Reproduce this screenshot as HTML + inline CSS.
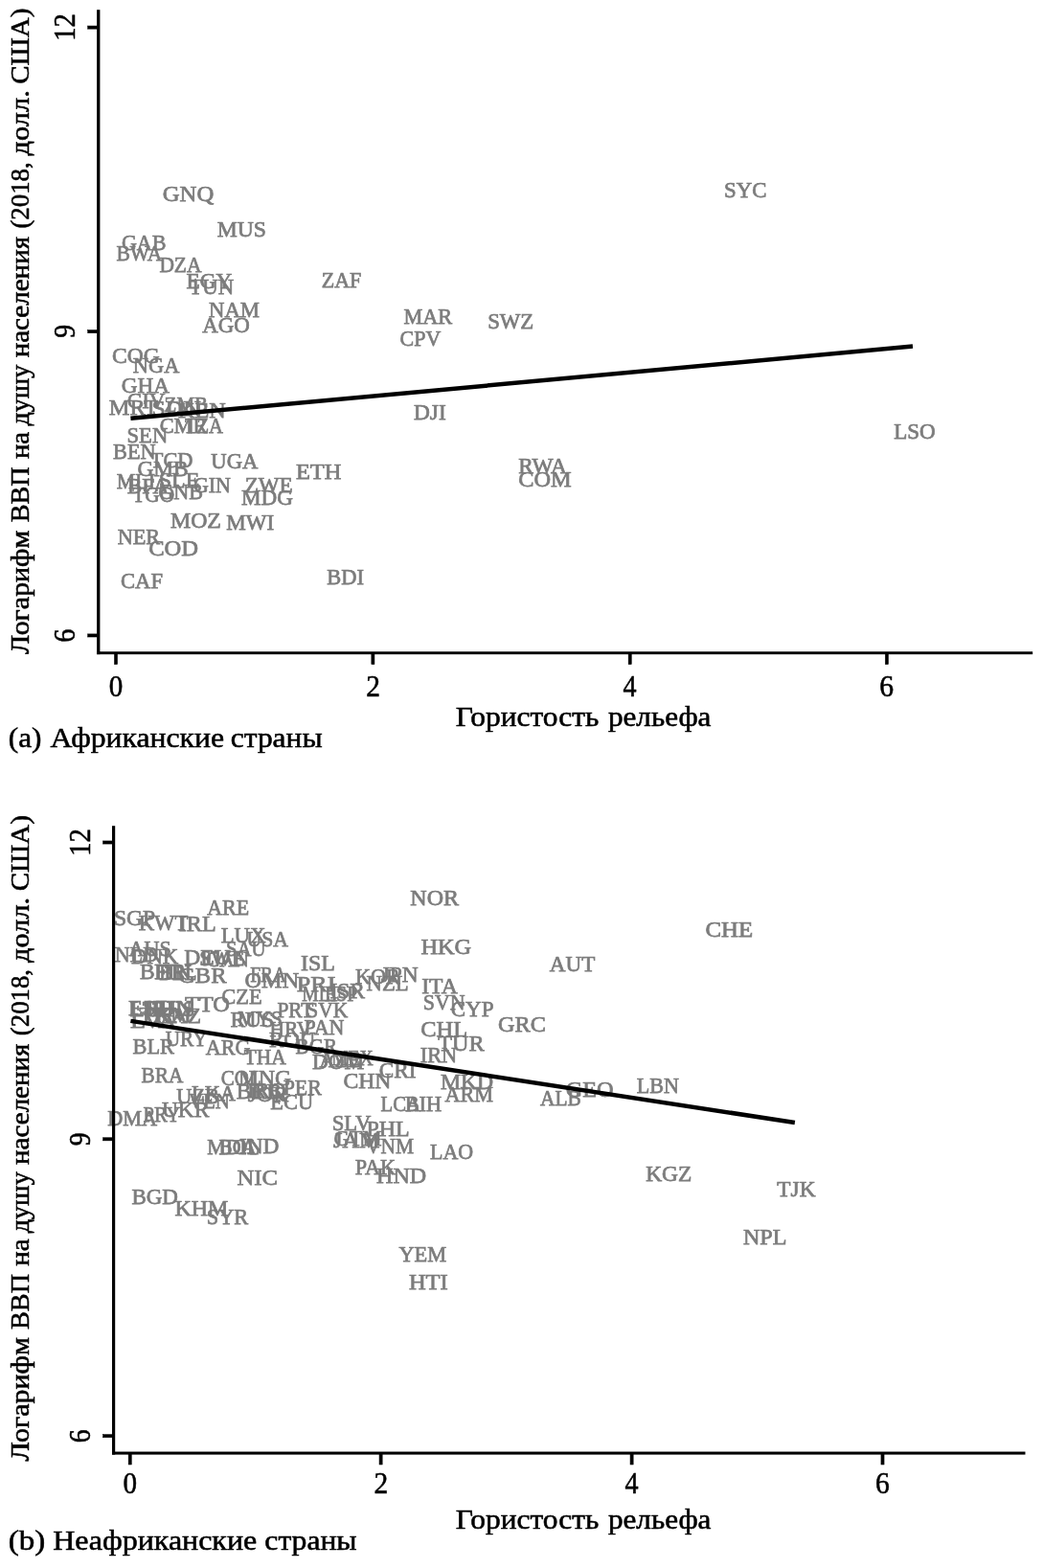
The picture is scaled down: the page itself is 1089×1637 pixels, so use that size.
<!DOCTYPE html>
<html lang="ru"><head><meta charset="utf-8"><title>Гористость рельефа и логарифм ВВП на душу населения</title>
<style>html,body{margin:0;padding:0;background:#fff}svg{display:block}text{font-family:"Liberation Serif",serif}.ax{font-size:29.5px;fill:#000;stroke:#000;stroke-width:0.55px}.yl{font-size:27.5px}.xt{font-size:30.5px}.yt{font-size:30.5px}.lb{font-size:24.0px;fill:#7c7c7c;stroke:#7c7c7c;stroke-width:0.75px}</style></head><body>
<svg width="1089" height="1637" viewBox="0 0 1089 1637">
<rect width="1089" height="1637" fill="#fff"/>
<g id="panel-a">
<g class="lb">
<text x="169.79" y="210.0" textLength="53.45" lengthAdjust="spacingAndGlyphs">GNQ</text>
<text x="226.73" y="247.0" textLength="51.22" lengthAdjust="spacingAndGlyphs">MUS</text>
<text x="126.89" y="260.7" textLength="46.61" lengthAdjust="spacingAndGlyphs">GAB</text>
<text x="121.38" y="272.4" textLength="48.00" lengthAdjust="spacingAndGlyphs">BWA</text>
<text x="166.38" y="283.6" textLength="44.11" lengthAdjust="spacingAndGlyphs">DZA</text>
<text x="194.54" y="301.0" textLength="47.67" lengthAdjust="spacingAndGlyphs">EGY</text>
<text x="197.28" y="307.4" textLength="46.87" lengthAdjust="spacingAndGlyphs">TUN</text>
<text x="335.73" y="300.0" textLength="41.60" lengthAdjust="spacingAndGlyphs">ZAF</text>
<text x="218.05" y="331.2" textLength="52.92" lengthAdjust="spacingAndGlyphs">NAM</text>
<text x="211.15" y="347.3" textLength="49.57" lengthAdjust="spacingAndGlyphs">AGO</text>
<text x="117.03" y="379.4" textLength="49.63" lengthAdjust="spacingAndGlyphs">COG</text>
<text x="138.86" y="388.7" textLength="48.41" lengthAdjust="spacingAndGlyphs">NGA</text>
<text x="126.75" y="410.0" textLength="50.23" lengthAdjust="spacingAndGlyphs">GHA</text>
<text x="132.85" y="425.7" textLength="39.65" lengthAdjust="spacingAndGlyphs">CIV</text>
<text x="113.81" y="432.8" textLength="51.23" lengthAdjust="spacingAndGlyphs">MRT</text>
<text x="158.44" y="433.5" textLength="51.38" lengthAdjust="spacingAndGlyphs">SDN</text>
<text x="171.58" y="430.2" textLength="45.49" lengthAdjust="spacingAndGlyphs">ZMB</text>
<text x="186.11" y="435.7" textLength="49.66" lengthAdjust="spacingAndGlyphs">KEN</text>
<text x="166.78" y="452.0" textLength="49.51" lengthAdjust="spacingAndGlyphs">CMR</text>
<text x="192.91" y="452.4" textLength="40.04" lengthAdjust="spacingAndGlyphs">TZA</text>
<text x="132.55" y="462.4" textLength="42.66" lengthAdjust="spacingAndGlyphs">SEN</text>
<text x="118.06" y="479.4" textLength="44.46" lengthAdjust="spacingAndGlyphs">BEN</text>
<text x="156.78" y="487.8" textLength="44.74" lengthAdjust="spacingAndGlyphs">TCD</text>
<text x="220.32" y="488.6" textLength="49.05" lengthAdjust="spacingAndGlyphs">UGA</text>
<text x="143.44" y="497.4" textLength="53.21" lengthAdjust="spacingAndGlyphs">GMB</text>
<text x="308.90" y="500.0" textLength="47.43" lengthAdjust="spacingAndGlyphs">ETH</text>
<text x="121.87" y="509.6" textLength="40.13" lengthAdjust="spacingAndGlyphs">MLI</text>
<text x="165.87" y="509.0" textLength="42.36" lengthAdjust="spacingAndGlyphs">SLE</text>
<text x="201.89" y="513.9" textLength="39.12" lengthAdjust="spacingAndGlyphs">GIN</text>
<text x="255.68" y="513.6" textLength="50.02" lengthAdjust="spacingAndGlyphs">ZWE</text>
<text x="132.73" y="514.8" textLength="43.63" lengthAdjust="spacingAndGlyphs">BFA</text>
<text x="165.29" y="521.2" textLength="46.72" lengthAdjust="spacingAndGlyphs">GNB</text>
<text x="138.20" y="524.4" textLength="43.99" lengthAdjust="spacingAndGlyphs">TGO</text>
<text x="251.94" y="526.8" textLength="54.01" lengthAdjust="spacingAndGlyphs">MDG</text>
<text x="178.02" y="550.7" textLength="52.91" lengthAdjust="spacingAndGlyphs">MOZ</text>
<text x="236.24" y="552.5" textLength="49.91" lengthAdjust="spacingAndGlyphs">MWI</text>
<text x="122.66" y="568.2" textLength="44.52" lengthAdjust="spacingAndGlyphs">NER</text>
<text x="155.19" y="580.4" textLength="51.89" lengthAdjust="spacingAndGlyphs">COD</text>
<text x="126.07" y="614.2" textLength="43.85" lengthAdjust="spacingAndGlyphs">CAF</text>
<text x="341.26" y="609.8" textLength="38.65" lengthAdjust="spacingAndGlyphs">BDI</text>
<text x="421.46" y="338.2" textLength="50.78" lengthAdjust="spacingAndGlyphs">MAR</text>
<text x="417.60" y="360.7" textLength="42.61" lengthAdjust="spacingAndGlyphs">CPV</text>
<text x="509.13" y="343.2" textLength="48.17" lengthAdjust="spacingAndGlyphs">SWZ</text>
<text x="432.03" y="437.8" textLength="33.69" lengthAdjust="spacingAndGlyphs">DJI</text>
<text x="541.13" y="494.4" textLength="50.66" lengthAdjust="spacingAndGlyphs">RWA</text>
<text x="541.30" y="507.6" textLength="55.41" lengthAdjust="spacingAndGlyphs">COM</text>
<text x="755.93" y="206.4" textLength="44.46" lengthAdjust="spacingAndGlyphs">SYC</text>
<text x="933.14" y="458.3" textLength="43.49" lengthAdjust="spacingAndGlyphs">LSO</text>
</g>
<rect x="101.10" y="10.20" width="3.30" height="672.95" fill="#000"/>
<rect x="101.10" y="680.25" width="977.10" height="2.90" fill="#000"/>
<g class="ax">
<rect x="91.70" y="27.05" width="9.90" height="3.10" fill="#000"/>
<text class="yt" transform="translate(77.7,0) rotate(-90)" x="-42.83" y="0" textLength="28.63" lengthAdjust="spacingAndGlyphs">12</text>
<rect x="91.70" y="344.60" width="9.90" height="3.10" fill="#000"/>
<text class="yt" transform="translate(77.7,0) rotate(-90)" x="-352.83" y="0" textLength="13.86" lengthAdjust="spacingAndGlyphs">9</text>
<rect x="91.70" y="661.90" width="9.90" height="3.10" fill="#000"/>
<text class="yt" transform="translate(77.7,0) rotate(-90)" x="-670.50" y="0" textLength="13.86" lengthAdjust="spacingAndGlyphs">6</text>
<rect x="119.45" y="682.65" width="3.10" height="10.90" fill="#000"/>
<text class="xt" x="113.79" y="727.0" textLength="14.53" lengthAdjust="spacingAndGlyphs">0</text>
<rect x="387.85" y="682.65" width="3.10" height="10.90" fill="#000"/>
<text class="xt" x="382.22" y="727.0" textLength="14.72" lengthAdjust="spacingAndGlyphs">2</text>
<rect x="656.15" y="682.65" width="3.10" height="10.90" fill="#000"/>
<text class="xt" x="650.61" y="727.0" textLength="14.03" lengthAdjust="spacingAndGlyphs">4</text>
<rect x="924.35" y="682.65" width="3.10" height="10.90" fill="#000"/>
<text class="xt" x="918.32" y="727.0" textLength="14.80" lengthAdjust="spacingAndGlyphs">6</text>
</g>
<line x1="136.4" y1="436.8" x2="953" y2="361.6" stroke="#000" stroke-width="4.5"/>
<text class="ax yl" transform="translate(30.2,0) rotate(-90)">
<tspan x="-682.92" y="0" textLength="129.35" lengthAdjust="spacingAndGlyphs">Логарифм</tspan> 
<tspan x="-545.30" y="0" textLength="57.83" lengthAdjust="spacingAndGlyphs">ВВП</tspan> 
<tspan x="-479.13" y="0" textLength="28.26" lengthAdjust="spacingAndGlyphs">на</tspan> 
<tspan x="-444.62" y="0" textLength="63.89" lengthAdjust="spacingAndGlyphs">душу</tspan> 
<tspan x="-373.33" y="0" textLength="126.36" lengthAdjust="spacingAndGlyphs">населения</tspan> 
<tspan x="-238.56" y="0" textLength="69.18" lengthAdjust="spacingAndGlyphs">(2018,</tspan> 
<tspan x="-162.42" y="0" textLength="68.16" lengthAdjust="spacingAndGlyphs">долл.</tspan> 
<tspan x="-87.79" y="0" textLength="79.27" lengthAdjust="spacingAndGlyphs">США)</tspan> 
</text>
<text class="ax" y="758.4">
<tspan x="475.81" textLength="149.66" lengthAdjust="spacingAndGlyphs">Гористость</tspan> 
<tspan x="634.91" textLength="107.57" lengthAdjust="spacingAndGlyphs">рельефа</tspan> 
</text>
<text class="ax" y="779.7">
<tspan x="8.75" textLength="34.70" lengthAdjust="spacingAndGlyphs">(a)</tspan> 
<tspan x="52.46" textLength="181.52" lengthAdjust="spacingAndGlyphs">Африканские</tspan> 
<tspan x="240.79" textLength="95.79" lengthAdjust="spacingAndGlyphs">страны</tspan> 
</text>
</g>
<g id="panel-b">
<g class="lb">
<text x="216.16" y="954.5" textLength="43.87" lengthAdjust="spacingAndGlyphs">ARE</text>
<text x="118.88" y="966.4" textLength="43.38" lengthAdjust="spacingAndGlyphs">SGP</text>
<text x="144.65" y="970.8" textLength="51.76" lengthAdjust="spacingAndGlyphs">KWT</text>
<text x="186.83" y="971.6" textLength="38.76" lengthAdjust="spacingAndGlyphs">IRL</text>
<text x="230.65" y="984.4" textLength="46.68" lengthAdjust="spacingAndGlyphs">LUX</text>
<text x="257.44" y="987.6" textLength="43.46" lengthAdjust="spacingAndGlyphs">USA</text>
<text x="235.98" y="997.5" textLength="41.37" lengthAdjust="spacingAndGlyphs">SAU</text>
<text x="134.55" y="998.4" textLength="44.11" lengthAdjust="spacingAndGlyphs">AUS</text>
<text x="119.87" y="1003.9" textLength="45.24" lengthAdjust="spacingAndGlyphs">NLD</text>
<text x="136.95" y="1005.5" textLength="49.38" lengthAdjust="spacingAndGlyphs">DNK</text>
<text x="192.33" y="1007.0" textLength="48.37" lengthAdjust="spacingAndGlyphs">DEU</text>
<text x="208.17" y="1007.6" textLength="47.20" lengthAdjust="spacingAndGlyphs">SWE</text>
<text x="214.92" y="1008.9" textLength="45.06" lengthAdjust="spacingAndGlyphs">CAN</text>
<text x="146.03" y="1022.4" textLength="48.22" lengthAdjust="spacingAndGlyphs">BHR</text>
<text x="161.12" y="1022.0" textLength="38.62" lengthAdjust="spacingAndGlyphs">FIN</text>
<text x="166.20" y="1022.6" textLength="39.30" lengthAdjust="spacingAndGlyphs">BEL</text>
<text x="186.20" y="1026.3" textLength="50.26" lengthAdjust="spacingAndGlyphs">GBR</text>
<text x="261.24" y="1024.9" textLength="37.74" lengthAdjust="spacingAndGlyphs">FRA</text>
<text x="255.61" y="1031.3" textLength="56.53" lengthAdjust="spacingAndGlyphs">OMN</text>
<text x="313.94" y="1012.8" textLength="35.82" lengthAdjust="spacingAndGlyphs">ISL</text>
<text x="370.97" y="1027.2" textLength="46.69" lengthAdjust="spacingAndGlyphs">KOR</text>
<text x="397.71" y="1024.8" textLength="39.05" lengthAdjust="spacingAndGlyphs">JPN</text>
<text x="382.55" y="1034.2" textLength="44.17" lengthAdjust="spacingAndGlyphs">NZL</text>
<text x="309.86" y="1035.0" textLength="40.61" lengthAdjust="spacingAndGlyphs">PRI</text>
<text x="344.45" y="1041.5" textLength="36.60" lengthAdjust="spacingAndGlyphs">ISR</text>
<text x="315.13" y="1044.6" textLength="39.82" lengthAdjust="spacingAndGlyphs">MLT</text>
<text x="338.92" y="1045.4" textLength="34.46" lengthAdjust="spacingAndGlyphs">ESP</text>
<text x="231.28" y="1048.4" textLength="42.29" lengthAdjust="spacingAndGlyphs">CZE</text>
<text x="192.95" y="1056.3" textLength="47.08" lengthAdjust="spacingAndGlyphs">TTO</text>
<text x="289.39" y="1061.6" textLength="37.89" lengthAdjust="spacingAndGlyphs">PRT</text>
<text x="320.33" y="1061.8" textLength="42.92" lengthAdjust="spacingAndGlyphs">SVK</text>
<text x="134.10" y="1060.3" textLength="43.50" lengthAdjust="spacingAndGlyphs">EST</text>
<text x="135.57" y="1060.5" textLength="47.15" lengthAdjust="spacingAndGlyphs">LTU</text>
<text x="150.13" y="1060.2" textLength="50.60" lengthAdjust="spacingAndGlyphs">HUN</text>
<text x="158.13" y="1061.0" textLength="45.50" lengthAdjust="spacingAndGlyphs">BHS</text>
<text x="145.34" y="1067.0" textLength="54.61" lengthAdjust="spacingAndGlyphs">TKM</text>
<text x="162.13" y="1068.0" textLength="47.88" lengthAdjust="spacingAndGlyphs">KAZ</text>
<text x="136.05" y="1072.6" textLength="48.36" lengthAdjust="spacingAndGlyphs">LVA</text>
<text x="240.43" y="1071.5" textLength="45.50" lengthAdjust="spacingAndGlyphs">RUS</text>
<text x="248.18" y="1070.9" textLength="46.63" lengthAdjust="spacingAndGlyphs">MYS</text>
<text x="281.58" y="1082.4" textLength="43.68" lengthAdjust="spacingAndGlyphs">HRV</text>
<text x="317.57" y="1080.4" textLength="41.92" lengthAdjust="spacingAndGlyphs">PAN</text>
<text x="280.95" y="1092.8" textLength="48.31" lengthAdjust="spacingAndGlyphs">ROU</text>
<text x="308.59" y="1100.4" textLength="43.46" lengthAdjust="spacingAndGlyphs">BGR</text>
<text x="172.75" y="1091.7" textLength="43.78" lengthAdjust="spacingAndGlyphs">URY</text>
<text x="138.56" y="1100.1" textLength="43.42" lengthAdjust="spacingAndGlyphs">BLR</text>
<text x="214.75" y="1100.8" textLength="46.66" lengthAdjust="spacingAndGlyphs">ARG</text>
<text x="254.80" y="1111.3" textLength="43.99" lengthAdjust="spacingAndGlyphs">THA</text>
<text x="325.93" y="1116.3" textLength="54.36" lengthAdjust="spacingAndGlyphs">DOM</text>
<text x="333.55" y="1113.5" textLength="42.80" lengthAdjust="spacingAndGlyphs">AZE</text>
<text x="345.94" y="1112.4" textLength="43.63" lengthAdjust="spacingAndGlyphs">MEX</text>
<text x="395.64" y="1124.6" textLength="38.78" lengthAdjust="spacingAndGlyphs">CRI</text>
<text x="358.43" y="1136.2" textLength="50.00" lengthAdjust="spacingAndGlyphs">CHN</text>
<text x="147.59" y="1129.6" textLength="43.77" lengthAdjust="spacingAndGlyphs">BRA</text>
<text x="230.74" y="1133.1" textLength="41.95" lengthAdjust="spacingAndGlyphs">COL</text>
<text x="248.93" y="1133.1" textLength="55.03" lengthAdjust="spacingAndGlyphs">MNG</text>
<text x="295.67" y="1142.6" textLength="40.08" lengthAdjust="spacingAndGlyphs">PER</text>
<text x="199.96" y="1148.6" textLength="46.04" lengthAdjust="spacingAndGlyphs">LKA</text>
<text x="246.73" y="1147.0" textLength="47.14" lengthAdjust="spacingAndGlyphs">BRB</text>
<text x="257.95" y="1146.4" textLength="40.68" lengthAdjust="spacingAndGlyphs">IRQ</text>
<text x="258.80" y="1150.3" textLength="42.45" lengthAdjust="spacingAndGlyphs">JOR</text>
<text x="184.33" y="1152.4" textLength="44.61" lengthAdjust="spacingAndGlyphs">UZB</text>
<text x="196.97" y="1157.4" textLength="42.83" lengthAdjust="spacingAndGlyphs">VEN</text>
<text x="282.36" y="1158.2" textLength="44.82" lengthAdjust="spacingAndGlyphs">ECU</text>
<text x="168.91" y="1166.3" textLength="49.35" lengthAdjust="spacingAndGlyphs">UKR</text>
<text x="149.61" y="1171.4" textLength="38.73" lengthAdjust="spacingAndGlyphs">PRY</text>
<text x="112.26" y="1174.9" textLength="51.90" lengthAdjust="spacingAndGlyphs">DMA</text>
<text x="397.51" y="1159.6" textLength="41.37" lengthAdjust="spacingAndGlyphs">LCA</text>
<text x="422.66" y="1159.6" textLength="38.53" lengthAdjust="spacingAndGlyphs">BIH</text>
<text x="346.65" y="1179.8" textLength="40.66" lengthAdjust="spacingAndGlyphs">SLV</text>
<text x="382.42" y="1185.7" textLength="45.18" lengthAdjust="spacingAndGlyphs">PHL</text>
<text x="348.57" y="1196.3" textLength="50.12" lengthAdjust="spacingAndGlyphs">GTM</text>
<text x="348.09" y="1198.1" textLength="48.31" lengthAdjust="spacingAndGlyphs">JAM</text>
<text x="381.96" y="1204.0" textLength="50.08" lengthAdjust="spacingAndGlyphs">VNM</text>
<text x="448.97" y="1209.8" textLength="45.14" lengthAdjust="spacingAndGlyphs">LAO</text>
<text x="216.17" y="1204.8" textLength="51.59" lengthAdjust="spacingAndGlyphs">MDA</text>
<text x="228.59" y="1205.0" textLength="42.41" lengthAdjust="spacingAndGlyphs">BOL</text>
<text x="249.96" y="1204.3" textLength="41.50" lengthAdjust="spacingAndGlyphs">IND</text>
<text x="370.66" y="1226.1" textLength="42.35" lengthAdjust="spacingAndGlyphs">PAK</text>
<text x="393.11" y="1234.8" textLength="52.15" lengthAdjust="spacingAndGlyphs">HND</text>
<text x="247.50" y="1237.4" textLength="42.48" lengthAdjust="spacingAndGlyphs">NIC</text>
<text x="137.44" y="1256.6" textLength="48.47" lengthAdjust="spacingAndGlyphs">BGD</text>
<text x="182.42" y="1269.1" textLength="55.79" lengthAdjust="spacingAndGlyphs">KHM</text>
<text x="215.77" y="1277.8" textLength="43.42" lengthAdjust="spacingAndGlyphs">SYR</text>
<text x="416.45" y="1317.0" textLength="49.74" lengthAdjust="spacingAndGlyphs">YEM</text>
<text x="426.90" y="1346.3" textLength="40.91" lengthAdjust="spacingAndGlyphs">HTI</text>
<text x="775.91" y="1299.4" textLength="45.60" lengthAdjust="spacingAndGlyphs">NPL</text>
<text x="811.37" y="1248.9" textLength="40.08" lengthAdjust="spacingAndGlyphs">TJK</text>
<text x="674.13" y="1233.0" textLength="48.19" lengthAdjust="spacingAndGlyphs">KGZ</text>
<text x="428.31" y="944.7" textLength="50.74" lengthAdjust="spacingAndGlyphs">NOR</text>
<text x="439.51" y="996.3" textLength="52.69" lengthAdjust="spacingAndGlyphs">HKG</text>
<text x="736.48" y="977.5" textLength="49.69" lengthAdjust="spacingAndGlyphs">CHE</text>
<text x="573.84" y="1014.2" textLength="47.53" lengthAdjust="spacingAndGlyphs">AUT</text>
<text x="440.25" y="1036.8" textLength="37.42" lengthAdjust="spacingAndGlyphs">ITA</text>
<text x="441.80" y="1053.6" textLength="43.73" lengthAdjust="spacingAndGlyphs">SVN</text>
<text x="470.75" y="1061.1" textLength="44.84" lengthAdjust="spacingAndGlyphs">CYP</text>
<text x="520.11" y="1076.6" textLength="49.82" lengthAdjust="spacingAndGlyphs">GRC</text>
<text x="439.30" y="1082.2" textLength="48.79" lengthAdjust="spacingAndGlyphs">CHL</text>
<text x="457.25" y="1096.6" textLength="48.44" lengthAdjust="spacingAndGlyphs">TUR</text>
<text x="438.69" y="1109.3" textLength="38.53" lengthAdjust="spacingAndGlyphs">IRN</text>
<text x="459.92" y="1136.7" textLength="55.32" lengthAdjust="spacingAndGlyphs">MKD</text>
<text x="464.45" y="1150.4" textLength="50.50" lengthAdjust="spacingAndGlyphs">ARM</text>
<text x="564.06" y="1153.9" textLength="42.73" lengthAdjust="spacingAndGlyphs">ALB</text>
<text x="590.70" y="1145.3" textLength="50.00" lengthAdjust="spacingAndGlyphs">GEO</text>
<text x="664.77" y="1141.3" textLength="44.26" lengthAdjust="spacingAndGlyphs">LBN</text>
</g>
<rect x="117.00" y="862.20" width="3.20" height="656.40" fill="#000"/>
<rect x="117.00" y="1515.55" width="953.50" height="3.05" fill="#000"/>
<g class="ax">
<rect x="107.60" y="877.95" width="9.90" height="3.10" fill="#000"/>
<text class="yt" transform="translate(94.0,0) rotate(-90)" x="-893.73" y="0" textLength="28.63" lengthAdjust="spacingAndGlyphs">12</text>
<rect x="107.60" y="1187.75" width="9.90" height="3.10" fill="#000"/>
<text class="yt" transform="translate(94.0,0) rotate(-90)" x="-1196.13" y="0" textLength="13.86" lengthAdjust="spacingAndGlyphs">9</text>
<rect x="107.60" y="1497.65" width="9.90" height="3.10" fill="#000"/>
<text class="yt" transform="translate(94.0,0) rotate(-90)" x="-1506.30" y="0" textLength="13.86" lengthAdjust="spacingAndGlyphs">6</text>
<rect x="134.15" y="1518.10" width="3.10" height="10.90" fill="#000"/>
<text class="xt" x="128.49" y="1559.2" textLength="14.53" lengthAdjust="spacingAndGlyphs">0</text>
<rect x="396.05" y="1518.10" width="3.10" height="10.90" fill="#000"/>
<text class="xt" x="390.42" y="1559.2" textLength="14.72" lengthAdjust="spacingAndGlyphs">2</text>
<rect x="658.05" y="1518.10" width="3.10" height="10.90" fill="#000"/>
<text class="xt" x="652.51" y="1559.2" textLength="14.03" lengthAdjust="spacingAndGlyphs">4</text>
<rect x="919.95" y="1518.10" width="3.10" height="10.90" fill="#000"/>
<text class="xt" x="913.92" y="1559.2" textLength="14.80" lengthAdjust="spacingAndGlyphs">6</text>
</g>
<line x1="136.4" y1="1065.9" x2="829.9" y2="1172.0" stroke="#000" stroke-width="4.5"/>
<text class="ax yl" transform="translate(30.2,0) rotate(-90)">
<tspan x="-1525.52" y="0" textLength="129.35" lengthAdjust="spacingAndGlyphs">Логарифм</tspan> 
<tspan x="-1387.90" y="0" textLength="57.83" lengthAdjust="spacingAndGlyphs">ВВП</tspan> 
<tspan x="-1321.73" y="0" textLength="28.26" lengthAdjust="spacingAndGlyphs">на</tspan> 
<tspan x="-1287.22" y="0" textLength="63.89" lengthAdjust="spacingAndGlyphs">душу</tspan> 
<tspan x="-1215.93" y="0" textLength="126.36" lengthAdjust="spacingAndGlyphs">населения</tspan> 
<tspan x="-1081.16" y="0" textLength="69.18" lengthAdjust="spacingAndGlyphs">(2018,</tspan> 
<tspan x="-1005.02" y="0" textLength="68.16" lengthAdjust="spacingAndGlyphs">долл.</tspan> 
<tspan x="-930.39" y="0" textLength="79.27" lengthAdjust="spacingAndGlyphs">США)</tspan> 
</text>
<text class="ax" y="1596.0">
<tspan x="475.81" textLength="149.66" lengthAdjust="spacingAndGlyphs">Гористость</tspan> 
<tspan x="634.91" textLength="107.57" lengthAdjust="spacingAndGlyphs">рельефа</tspan> 
</text>
<text class="ax" y="1617.5">
<tspan x="8.67" textLength="38.49" lengthAdjust="spacingAndGlyphs">(b)</tspan> 
<tspan x="55.20" textLength="213.01" lengthAdjust="spacingAndGlyphs">Неафриканские</tspan> 
<tspan x="276.39" textLength="96.19" lengthAdjust="spacingAndGlyphs">страны</tspan> 
</text>
</g>
</svg></body></html>
